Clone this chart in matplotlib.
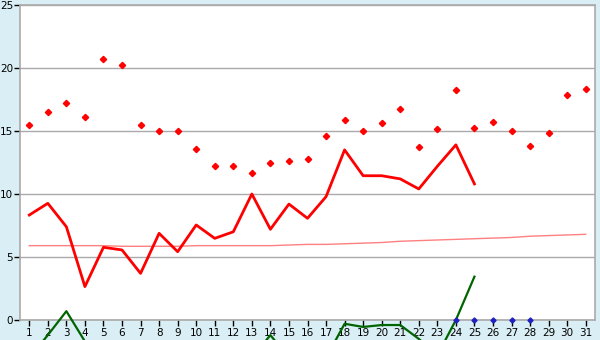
import matplotlib
matplotlib.use("Agg")
import matplotlib.pyplot as plt
import numpy as np

BG = "#d9eff5"
GRID = "#aaaaaa"
RED = "#ff0000"
PINK = "#ff8080"
GREEN = "#006400"
BLUE = "#2020c0"

days = list(range(1, 32))

# scattered daily maxima (red diamonds)
peaks = [15.45, 16.48, 17.2, 16.08, 20.69, 20.21, 15.45, 14.97, 14.97, 13.55,
         12.22, 12.22, 11.64, 12.5, 12.59, 12.75, 14.58, 15.85, 14.97, 15.61,
         16.72, 13.7, 15.13, 18.23, 15.21, 15.69, 14.97, 13.78, 14.81, 17.83,
         18.31]

# main red line, days 1-25
main_days = list(range(1, 26))
main_vals = [8.33, 9.26, 7.4, 2.65, 5.77, 5.56, 3.7, 6.88, 5.42, 7.54,
             6.48, 7.0, 10.0, 7.2, 9.2, 8.07, 9.79, 13.5, 11.45, 11.45,
             11.2, 10.4, 12.2, 13.9, 10.8]

# thin pink trend
trend = [5.9, 5.9, 5.9, 5.9, 5.9, 5.85, 5.85, 5.85, 5.85, 5.9,
         5.9, 5.9, 5.9, 5.9, 5.95, 6.0, 6.0, 6.05, 6.1, 6.15,
         6.25, 6.3, 6.35, 6.4, 6.45, 6.5, 6.55, 6.65, 6.7, 6.75, 6.8]

# green line (dips below the axis)
green_days = list(range(1, 26))
green_vals = [-3.0, -1.2, 0.7, -1.7, -4.0, -5.0, -5.0, -5.0, -5.0, -5.0,
              -5.0, -5.0, -3.0, -1.2, -3.0, -5.0, -3.0, -0.3, -0.55, -0.4,
              -0.4, -1.5, -2.8, 0.0, 3.44]

# blue zero markers
blue_days = [24, 25, 26, 27, 28]
blue_vals = [0, 0, 0, 0, 0]

fig = plt.figure(figsize=(6, 3.4), dpi=100, facecolor=BG)
ax = fig.add_axes([20 / 600, 20 / 340, 575 / 600, 315 / 340])
ax.set_facecolor("white")

ax.plot(days, trend, color=PINK, lw=1, zorder=2)
ax.plot(main_days, main_vals, color=RED, lw=2, zorder=3)
ax.plot(green_days, green_vals, color=GREEN, lw=1.6, zorder=3, clip_on=False)
ax.plot(days, peaks, linestyle="none", marker="D", ms=3.2, color=RED, zorder=4)
ax.plot(blue_days, blue_vals, linestyle="none", marker="D", ms=2.6, color=BLUE,
        zorder=5, clip_on=False)

ax.set_xlim(0.5, 31.5)
ax.set_ylim(0, 25)
ax.set_xticks(days)
ax.set_yticks([0, 5, 10, 15, 20, 25])
ax.yaxis.grid(True, color=GRID, lw=1)
ax.set_axisbelow(True)

for s in ["left", "bottom", "right", "top"]:
    ax.spines[s].set_color(GRID)
    ax.spines[s].set_linewidth(1.2)

ax.tick_params(axis="both", direction="out", length=4, width=1, color="black",
               labelsize=7.5, pad=1)
ax.tick_params(axis="x", pad=2)

fig.savefig("out.png", dpi=100, facecolor=BG)
